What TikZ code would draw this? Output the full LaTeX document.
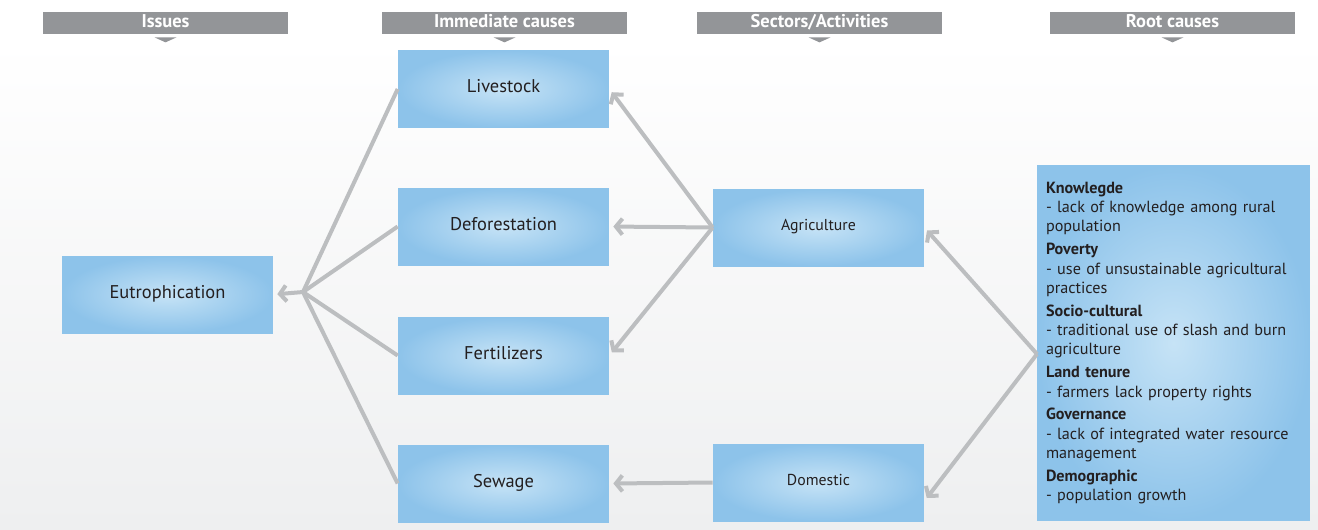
\documentclass[tikz,border=0pt]{standalone}
\usepackage{fontspec}
\setmainfont{PT Sans}
\usetikzlibrary{arrows.meta}
\definecolor{boxblue}{HTML}{8DC3EA}
\definecolor{boxlight}{HTML}{C6E3F6}
\definecolor{headgray}{HTML}{939598}
\definecolor{linkgray}{HTML}{BCBEC0}
\definecolor{textdark}{HTML}{231F20}
\definecolor{bggray}{HTML}{EEEFF0}
\begin{document}
\begin{tikzpicture}
[x=0.02cm,y=-0.02cm,
  headdecorate/.style={shape=rectangle,fill=headgray,text=white,
    minimum width=4.9cm,minimum height=0.44cm,inner sep=0pt,
    font=\fontsize{10.5}{12}\selectfont\bfseries},
  boxdecorate/.style={shape=rectangle,inner color=boxlight,outer color=boxblue,
    minimum width=4.22cm,minimum height=1.54cm,inner sep=0pt,text=textdark,
    text depth=0.6ex,font=\fontsize{10.5}{12}\selectfont},
  smallbox/.style={boxdecorate,font=\fontsize{9}{11}\selectfont},
  linedecorate/.style={draw=linkgray,line width=0.08cm},
  arrowdecorate/.style={linedecorate,-{Straight Barb[length=1.3mm,width=3.2mm]},
    shorten >=0.08cm}]
\useasboundingbox (0,0) rectangle (1318,529);
%% background
\fill[white] (0,0) rectangle (1318,41);
\shade[top color=white,bottom color=bggray] (0,40) rectangle (1318,529);
%% column headers
\foreach \nodename/\x/\caption in {
  issues/165.5/Issues, immediate/504.5/Immediate causes,
  sectors/819.5/{Sectors/Activities}, roots/1172.5/Root causes} {
  \node (\nodename) at (\x,23) [headdecorate,text depth=0.4ex] {\caption};
  \fill[headgray] (\nodename.south) ++(-11,3) -- ++(22,0) -- ++(-11,5) -- cycle;
}
%% boxes
\foreach \nodename/\x/\y/\caption in {
  eutrophication/167.5/294.5/Eutrophication, livestock/503.5/89/Livestock,
  deforestation/503.5/226.5/Deforestation, fertilizers/503.5/355.5/Fertilizers,
  sewage/503.5/483.5/Sewage} {
  \node (\nodename) at (\x,\y) [boxdecorate] {\caption};
}
\node (agriculture) at (818.5,227.5) [smallbox] {Agriculture};
\node (domestic) at (818.5,482.5) [smallbox] {Domestic};
\node (rootcauses) at (1173.5,343) [boxdecorate,minimum width=5.46cm,
  minimum height=7.12cm,text width=5.1cm,text depth=,align=left,
  font=\fontsize{9.2}{11}\selectfont] {%
  \textbf{Knowlegde}\\- lack of knowledge among rural\\population\\[2pt]
  \textbf{Poverty}\\- use of unsustainable agricultural\\practices\\[2pt]
  \textbf{Socio-cultural}\\- traditional use of slash and burn\\agriculture\\[2pt]
  \textbf{Land tenure}\\- farmers lack property rights\\[2pt]
  \textbf{Governance}\\- lack of integrated water resource\\management\\[2pt]
  \textbf{Demographic}\\- population growth};
\coordinate (hub) at (303,292);
\coordinate (roothub) at (1037,354);
%% edges or lines
\path
\foreach \startnode/\endnode in {hub/livestock.west, hub/deforestation.west,
  hub/fertilizers.west, hub/sewage.west} {
  (\startnode) edge[linedecorate] (\endnode)
};
\path
\foreach \startnode/\endnode in {hub/eutrophication.east,
  agriculture.west/livestock.east, agriculture.west/deforestation.east,
  agriculture.west/fertilizers.east, domestic.west/sewage.east,
  roothub/agriculture.east, roothub/domestic.-10} {
  (\startnode) edge[arrowdecorate] (\endnode)
};
\end{tikzpicture}
\end{document}
